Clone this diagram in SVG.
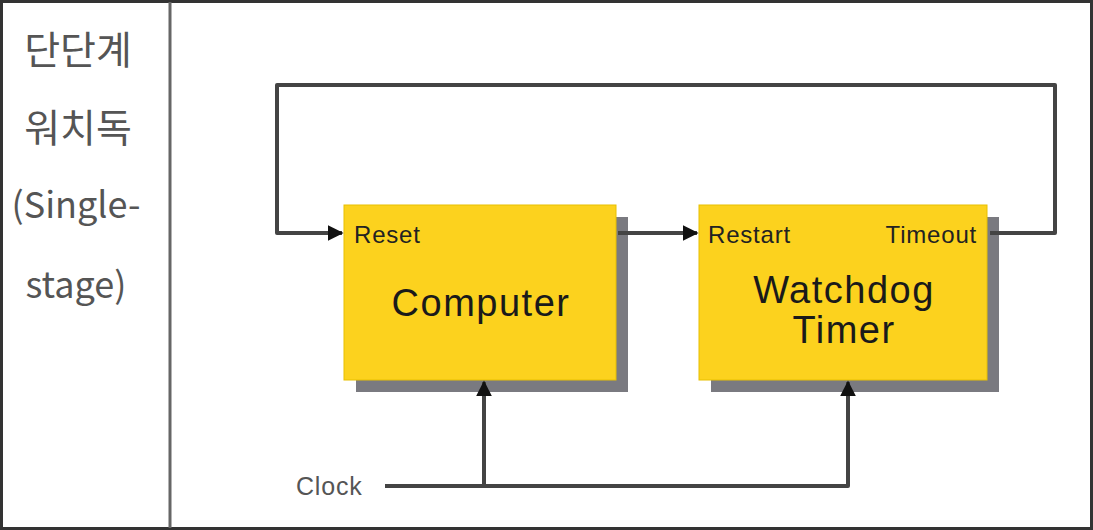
<svg xmlns="http://www.w3.org/2000/svg" width="1093" height="530" viewBox="0 0 1093 530">
<defs>
<style>
.frame{fill:none;stroke:#333;stroke-width:3}
.div{stroke:#666;stroke-width:3}
.side{font-family:"Noto Sans CJK KR","Noto Sans",sans-serif;font-size:36px;fill:#555;text-anchor:middle}
.ko{font-size:39px}
.box{fill:#FCD21E;stroke:#E8C000;stroke-width:1}
.shadow{fill:#7a7a80}
.wire{fill:none;stroke:#444;stroke-width:4;stroke-linejoin:round}
.port{font-family:"Liberation Sans",Arial,sans-serif;font-size:24px;letter-spacing:0.8px;fill:#222}
.title{font-family:"Liberation Sans",Arial,sans-serif;font-size:38px;letter-spacing:1.5px;fill:#1a1a1a;text-anchor:middle}
.clock{font-family:"Liberation Sans",Arial,sans-serif;font-size:25px;letter-spacing:0.8px;fill:#555}
</style>
<marker id="arr" viewBox="0 0 10 10" refX="9" refY="5" markerWidth="4" markerHeight="4" orient="auto" markerUnits="strokeWidth">
<path d="M0,0 L10,5 L0,10 z" fill="#111"/>
</marker>
</defs>
<rect x="0" y="0" width="1093" height="530" fill="#fff"/>
<rect class="frame" x="1.5" y="1.5" width="1090" height="527"/>
<line class="div" x1="170" y1="2" x2="170" y2="528"/>
<g id="label">
<text class="side ko" x="78" y="64">단단계</text>
<text class="side ko" x="78" y="142">워치독</text>
<text class="side" x="76" y="218">(Single-</text>
<text class="side" x="76" y="298">stage)</text>
</g>
<g id="computer">
<rect class="shadow" x="356" y="217" width="272" height="175"/>
<rect class="box" x="344" y="205" width="272" height="175"/>
<text class="port" x="354" y="243">Reset</text>
<text class="title" x="481" y="316">Computer</text>
</g>
<g id="watchdog">
<rect class="shadow" x="711" y="217" width="288" height="175"/>
<rect class="box" x="699" y="205" width="288" height="175"/>
<text class="port" x="708" y="243">Restart</text>
<text class="port" x="977" y="243" text-anchor="end">Timeout</text>
<text class="title" x="844" y="303">Watchdog</text>
<text class="title" x="844" y="343">Timer</text>
</g>
<g id="clock">
<text class="clock" x="296" y="495">Clock</text>
</g>
<g id="connectors">
<path class="wire" d="M990,233 H1055 V85 H277 V233 H342" marker-end="url(#arr)"/>
<path class="wire" d="M618,233 H697" marker-end="url(#arr)"/>
<path class="wire" d="M385,486 H848 V382" marker-end="url(#arr)"/>
<path class="wire" d="M484,486 V382" marker-end="url(#arr)"/>
</g>
</svg>
